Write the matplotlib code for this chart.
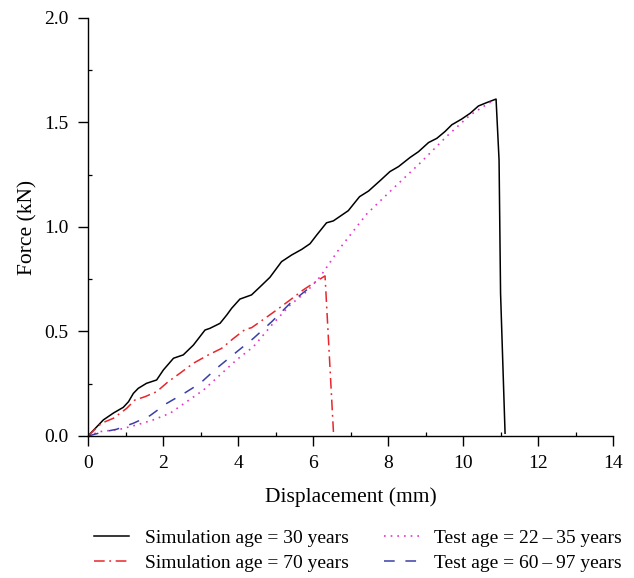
import matplotlib
matplotlib.use("Agg")
import matplotlib.pyplot as plt
from matplotlib.ticker import MultipleLocator

plt.rcParams['font.family'] = ['Liberation Serif', 'DejaVu Serif']

# Simulation age = 30 years
sim30_x = [0, 0.41, 0.68, 0.94, 1.08, 1.21, 1.34, 1.56, 1.83, 2.01, 2.28, 2.54, 2.81,
           3.12, 3.25, 3.52, 3.70, 3.83, 4.05, 4.36, 4.59, 4.85, 5.16, 5.43, 5.70, 5.92,
           6.10, 6.36, 6.54, 6.94, 7.24, 7.48, 7.79, 8.05, 8.28, 8.59, 8.81, 9.08, 9.30,
           9.52, 9.70, 9.96, 10.19, 10.41, 10.63, 10.88, 10.96, 11.00, 11.12]
sim30_y = [0, 0.077, 0.110, 0.137, 0.164, 0.204, 0.228, 0.252, 0.268, 0.316, 0.372, 0.388,
           0.435, 0.507, 0.515, 0.539, 0.579, 0.611, 0.655, 0.675, 0.714, 0.759, 0.834,
           0.866, 0.893, 0.920, 0.962, 1.020, 1.029, 1.078, 1.145, 1.172, 1.222, 1.265,
           1.289, 1.333, 1.360, 1.404, 1.424, 1.457, 1.489, 1.516, 1.544, 1.579, 1.595,
           1.612, 1.32, 0.683, 0.013]

# Simulation age = 70 years
sim70_x = [0, 0.36, 0.68, 1.03, 1.25, 1.52, 1.83, 2.14, 2.45, 2.81, 3.21, 3.56, 3.88,
           4.19, 4.36, 4.72, 5.03, 5.39, 5.74, 6.01, 6.32, 6.55]
sim70_y = [0, 0.061, 0.085, 0.132, 0.172, 0.188, 0.212, 0.260, 0.300, 0.348, 0.388, 0.419,
           0.467, 0.510, 0.518, 0.563, 0.603, 0.651, 0.699, 0.731, 0.766, 0.0]

# Test age = 22-35 years
test2235_x = [0, 0.32, 0.85, 1.30, 1.74, 2.19, 2.63, 3.08, 3.52, 3.96, 4.41, 4.90, 5.39,
              5.83, 6.19, 6.68, 7.43, 8.14, 8.85, 9.56, 10.19, 10.85]
test2235_y = [0, 0.021, 0.032, 0.053, 0.077, 0.109, 0.164, 0.220, 0.292, 0.364, 0.427,
              0.531, 0.627, 0.691, 0.762, 0.890, 1.062, 1.185, 1.305, 1.433, 1.536, 1.611]

# Test age = 60-97 years
test6097_x = [0, 0.45, 0.76, 1.21, 1.65, 2.10, 2.59, 2.99, 3.43, 3.92, 4.41, 4.90, 5.39,
              5.83, 6.05]
test6097_y = [0, 0.021, 0.032, 0.061, 0.097, 0.156, 0.207, 0.252, 0.324, 0.396, 0.467,
              0.547, 0.635, 0.699, 0.728]

labels = ["Simulation age = 30 years", "Simulation age = 70 years",
          "Test age = 22\u2009\u2013\u200935 years", "Test age = 60\u2009\u2013\u200997 years"]

fig = plt.figure(figsize=(6.34, 5.78), dpi=100)
ax = fig.add_axes([0.1388, 0.2457, 0.8282, 0.7232])

l1, = ax.plot(sim30_x, sim30_y, color='black', lw=1.1, linestyle='-')
l2, = ax.plot(sim70_x, sim70_y, color='#e8262c', lw=1.1, linestyle=(0, (7, 3, 1.2, 3)))
l3, = ax.plot(test2235_x, test2235_y, color='#e632c8', lw=1.2, linestyle=(0, (1, 3)))
l4, = ax.plot(test6097_x, test6097_y, color='#3a3fa6', lw=1.1, linestyle=(0, (7, 7)))

ax.set_xlim(0, 14)
ax.set_ylim(0, 2.0)
ax.xaxis.set_major_locator(MultipleLocator(2))
ax.xaxis.set_minor_locator(MultipleLocator(1))
ax.yaxis.set_major_locator(MultipleLocator(0.5))
ax.yaxis.set_minor_locator(MultipleLocator(0.25))
ax.yaxis.set_major_formatter(matplotlib.ticker.FormatStrFormatter('%.1f'))
ax.spines['top'].set_visible(False)
ax.spines['right'].set_visible(False)
for s in ['left', 'bottom']:
    ax.spines[s].set_linewidth(1.0)
ax.tick_params(which='major', direction='out', length=7, width=1.0, labelsize=14, pad=7)
ax.tick_params(which='minor', direction='in', length=3, width=0.9)

ax.set_xlabel("Displacement (mm)", fontsize=15.5, labelpad=11)
ax.set_ylabel("Force (kN)", fontsize=15.5, labelpad=5)

fig.legend([l1, l2, l3, l4], labels, loc='lower center', bbox_to_anchor=(0.565, -0.02),
           ncol=2, frameon=False, fontsize=14, handlelength=1.8, columnspacing=1.8,
           labelspacing=0.4, handletextpad=0.8)

fig.savefig("out.png", dpi=100)
